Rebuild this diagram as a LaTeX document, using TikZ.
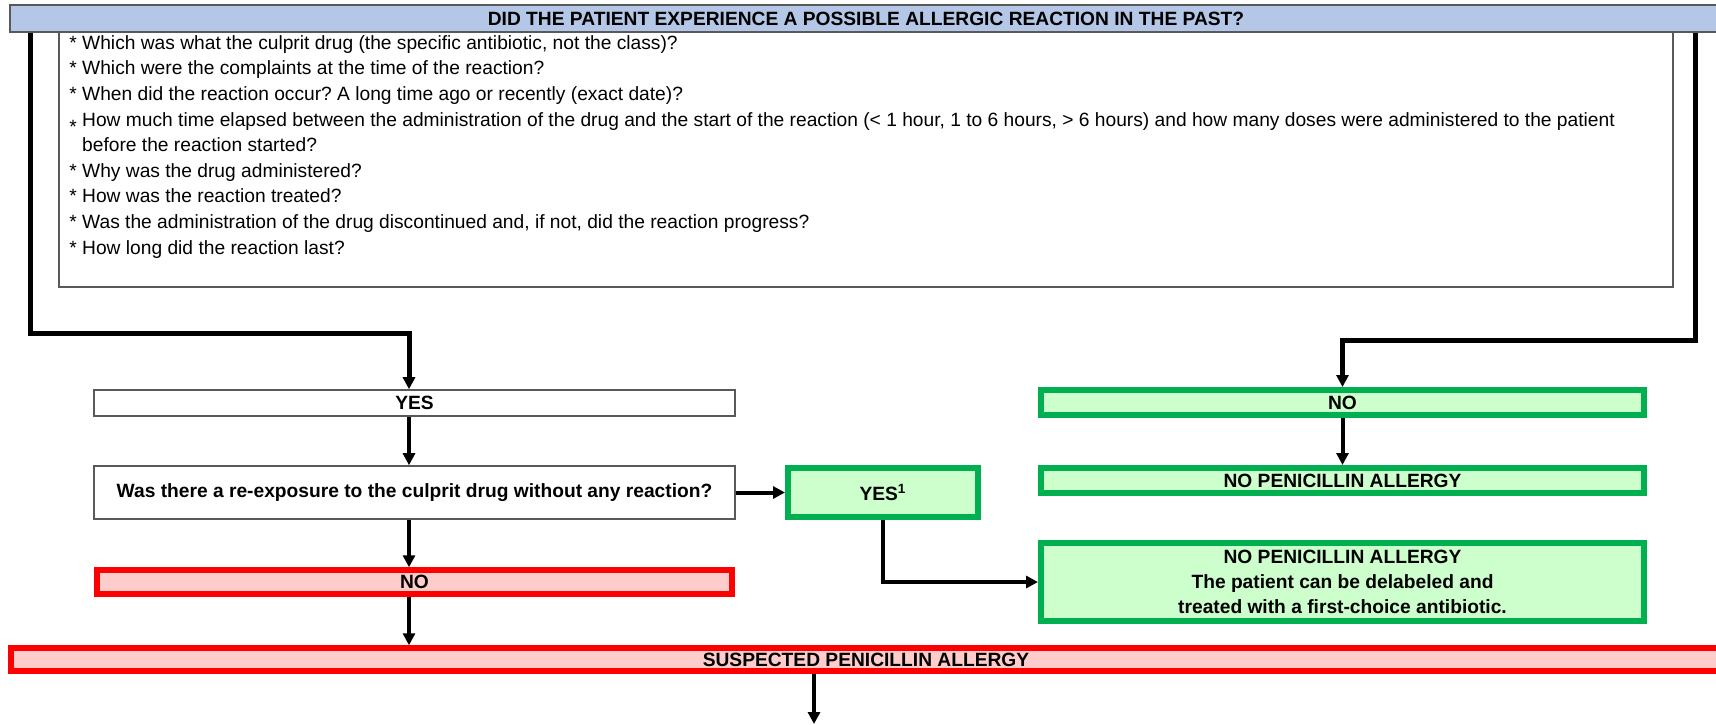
\documentclass[tikz,border=0pt]{standalone}
\usepackage{fontspec}
\setmainfont{Liberation Sans}
\usetikzlibrary{arrows.meta}
\frenchspacing
\definecolor{bleuclair}{HTML}{B4C7E7}
\definecolor{gris}{HTML}{595959}
\definecolor{vert}{HTML}{00B050}
\definecolor{vertclair}{HTML}{CCFFCC}
\definecolor{rouge}{HTML}{FF0000}
\definecolor{rougeclair}{HTML}{FFCCCC}

\begin{document}
\begin{tikzpicture}[x=0.5pt,y=-0.5pt]
\tikzset{boite/.style={draw=gris, line width=0.8pt, inner sep=0pt, font=\fontsize{9.6}{12.5}\selectfont\bfseries},
noeudvert/.style={boite, draw=vert, fill=vertclair, line width=3pt},
noeudrouge/.style={boite, draw=rouge, fill=rougeclair, line width=2.75pt},
fleche/.style={line width=2pt, -{Triangle[length=6pt,width=6pt]}}}
\useasboundingbox (0,0) rectangle (1716,724);
\node[boite, fill=bleuclair, minimum width=856pt, minimum height=13.5pt] (Titre) at (866,18.5) {DID THE PATIENT EXPERIENCE A POSSIBLE ALLERGIC REACTION IN THE PAST?};
\node[boite, minimum width=807pt, minimum height=127.5pt] (Liste) at (866,159.5) {};
\node[anchor=north west, align=left, inner sep=0pt, font=\fontsize{9.6}{12.8}\selectfont] (Questions) at (69,35) {*\ Which was what the culprit drug (the specific antibiotic, not the class)?\\
*\ Which were the complaints at the time of the reaction?\\
*\ When did the reaction occur? A long time ago or recently (exact date)?\\
\raisebox{-3.5pt}{*}\ How much time elapsed between the administration of the drug and the start of the reaction (< 1 hour, 1 to 6 hours, > 6 hours) and how many doses were administered to the patient\\
\phantom{*}\ before the reaction started?\\
*\ Why was the drug administered?\\
*\ How was the reaction treated?\\
*\ Was the administration of the drug discontinued and, if not, did the reaction progress?\\
*\ How long did the reaction last?};
\node[boite, fill=white, minimum width=320.5pt, minimum height=13pt] (Oui) at (414.5,403) {YES};
\node[boite, minimum width=320.5pt, minimum height=26.5pt] (Reexpo) at (414.5,492.5) {Was there a re-exposure to the culprit drug without any reaction?};
\node[noeudrouge, minimum width=317.5pt, minimum height=12pt] (NonR) at (414.5,582) {NO};
\node[noeudrouge, minimum width=855pt, minimum height=11.5pt] (Susp) at (866,659.5) {SUSPECTED PENICILLIN ALLERGY};
\node[noeudvert, minimum width=95pt, minimum height=24.5pt] (Oui1) at (883,492.5) {YES\textsuperscript{1}};
\node[noeudvert, minimum width=301.5pt, minimum height=12.5pt] (NonV) at (1342.5,402.5) {NO};
\node[noeudvert, minimum width=301.5pt, minimum height=12.5pt] (NPA1) at (1342.5,480.5) {NO PENICILLIN ALLERGY};
\node[noeudvert, minimum width=301.5pt, minimum height=39pt, align=center] (NPA2) at (1342.5,582) {NO PENICILLIN ALLERGY\\The patient can be delabeled and\\treated with a first-choice antibiotic.};
\coordinate (Cg) at (30,333);
\coordinate (Cd) at (1695,340);
\coordinate (Colg) at (409,0);
\coordinate (Bas) at (814,724);
\draw[fleche, line width=2.5pt] (Titre.south -| Cg) -- (Cg) -| (Oui.north -| Colg);
\draw[fleche, line width=2.5pt] (Titre.south -| Cd) -- (Cd) -| (NonV.north);
\draw[fleche] (Oui.south -| Colg) -- (Reexpo.north -| Colg);
\draw[fleche] (Reexpo.south -| Colg) -- (NonR.north -| Colg);
\draw[fleche] (NonR.south -| Colg) -- (Susp.north -| Colg);
\draw[fleche] (Reexpo) -- (Oui1);
\draw[fleche] (NonV) -- (NPA1);
\draw[fleche] (Oui1) |- (NPA2);
\draw[fleche] (Susp.south -| Bas) -- (Bas);
\end{tikzpicture}
\end{document}
